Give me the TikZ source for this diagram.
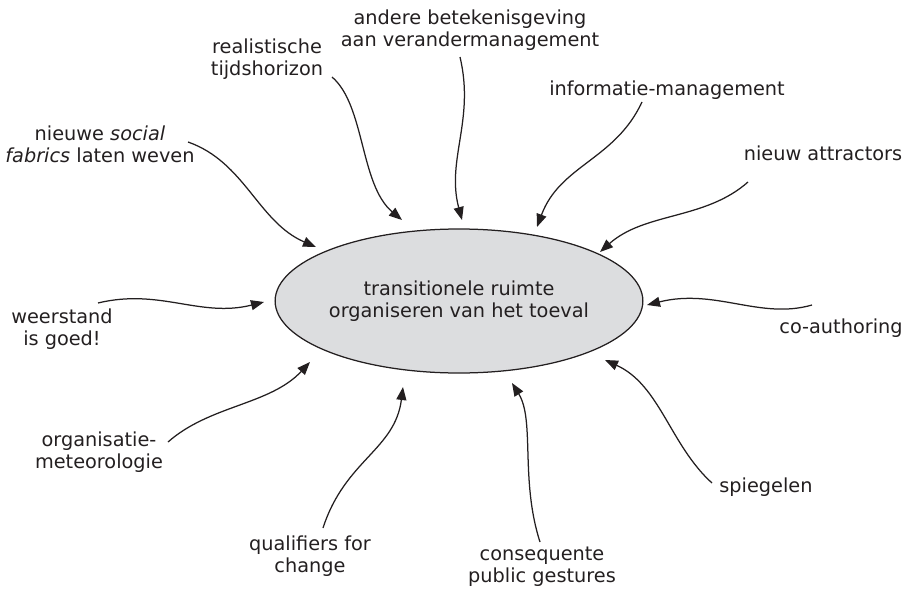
\documentclass[tikz,border=0pt]{standalone}
\usepackage{fontspec}
\setmainfont{DejaVu Sans}
\usetikzlibrary{arrows.meta,shapes.geometric}
\definecolor{ink}{HTML}{231F20}
\definecolor{cloud}{HTML}{DCDDDF}
\begin{document}
\begin{tikzpicture}[x=1pt,y=-1pt,
  lbl/.style={align=center, anchor=base, inner sep=0pt, text=ink,
              font=\fontsize{19.3}{22}\selectfont},
  link/.style={draw=ink, line width=1.25pt,
               -{Triangle[length=13pt,width=10pt]}}]
\useasboundingbox (0,0) rectangle (914,589);

% central ellipse
\node[ellipse, draw=ink, line width=1.25pt, fill=cloud, inner sep=0pt,
      minimum width=345pt, minimum height=144pt, text=ink,
      font=\fontsize{19.3}{22}\selectfont, align=center]
  (core) at (459,301) {transitionele ruimte\\organiseren van het toeval};

% surrounding labels (placed by the baseline of their last line)
\node[lbl] (social)   at (100,162) {nieuwe \textit{social}\\\textit{fabrics} laten weven};
\node[lbl] (horizon)  at (267,75)  {realistische\\tijdshorizon};
\node[lbl] (meaning)  at (470,46)  {andere betekenisgeving\\aan verandermanagement};
\node[lbl] (info)     at (667,95)  {informatie-management};
\node[lbl] (attract)  at (823,160) {nieuw attractors};
\node[lbl] (resist)   at (62,345)  {weerstand\\is goed!};
\node[lbl] (weather)  at (99,468)  {organisatie-\\meteorologie};
\node[lbl] (quals)    at (310,572) {qualifiers for\\change};
\node[lbl] (gestures) at (542,582) {consequente\\public gestures};
\node[lbl] (mirror)   at (766,492) {spiegelen};
\node[lbl] (coauth)   at (841,333) {co-authoring};

% start and end points of the connectors
\coordinate (social-s)   at (188,142);  \coordinate (social-t)   at (316,247);
\coordinate (horizon-s)  at (332,77);   \coordinate (horizon-t)  at (402,220);
\coordinate (meaning-s)  at (460,57);   \coordinate (meaning-t)  at (462,220);
\coordinate (info-s)     at (642,102);  \coordinate (info-t)     at (537,227);
\coordinate (attract-s)  at (748,182);  \coordinate (attract-t)  at (600,252);
\coordinate (resist-s)   at (98,303);   \coordinate (resist-t)   at (264,302);
\coordinate (weather-s)  at (168,442);  \coordinate (weather-t)  at (310,362);
\coordinate (quals-s)    at (323,528);  \coordinate (quals-t)    at (403,387);
\coordinate (gestures-s) at (540,542);  \coordinate (gestures-t) at (512,383);
\coordinate (mirror-s)   at (712,483);  \coordinate (mirror-t)   at (605,360);
\coordinate (coauth-s)   at (812,305);  \coordinate (coauth-t)   at (647,305);

% wavy arrows towards the centre
\draw[link] (social-s)   .. controls (245,162) and (258,222) .. (social-t);
\draw[link] (horizon-s)  .. controls (365,105) and (360,185) .. (horizon-t);
\draw[link] (meaning-s)  .. controls (475,120) and (446,160) .. (meaning-t);
\draw[link] (info-s)     .. controls (615,160) and (560,165) .. (info-t);
\draw[link] (attract-s)  .. controls (705,220) and (645,212) .. (attract-t);
\draw[link] (resist-s)   .. controls (160,288) and (200,318) .. (resist-t);
\draw[link] (weather-s)  .. controls (210,405) and (270,405) .. (weather-t);
\draw[link] (quals-s)    .. controls (345,460) and (395,450) .. (quals-t);
\draw[link] (gestures-s) .. controls (520,480) and (535,420) .. (gestures-t);
\draw[link] (mirror-s)   .. controls (670,445) and (660,385) .. (mirror-t);
\draw[link] (coauth-s)   .. controls (760,320) and (715,288) .. (coauth-t);
\end{tikzpicture}
\end{document}
